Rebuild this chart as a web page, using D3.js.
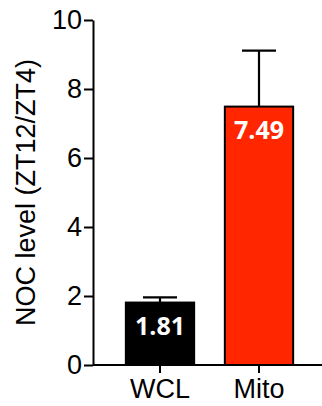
<!DOCTYPE html>
<html>
<head>
<meta charset="utf-8">
<script src="https://cdn.jsdelivr.net/npm/d3@7"></script>
<style>
  html, body { margin: 0; padding: 0; background: #fff; }
  svg { display: block; }
</style>
</head>
<body>
<div id="chart"></div>
<script>
// NOC level ratio (ZT12 / ZT4) for whole-cell lysate vs mitochondria
const categories = ["WCL", "Mito"];
const means = [1.81, 7.49];
const errors = [0.15, 1.62];
const barColors = ["#000000", "#ff2600"];
const yTicks = [0, 2, 4, 6, 8, 10];
const yTitle = "NOC level (ZT12/ZT4)";

const width = 322, height = 406;
const axisX = 93, axisRight = 322, yTop = 20, yBottom = 365;

const svg = d3.select("#chart").append("svg")
  .attr("width", width).attr("height", height);

const y = d3.scaleLinear().domain([0, 10]).range([yBottom, yTop]);
const x = d3.scaleBand().domain(categories)
  .range([110.5, 308.5]).paddingInner(0.31).paddingOuter(0.155);

const axisFont = "'Liberation Sans', Arial, sans-serif";

// bars
svg.selectAll("rect.bar").data(categories).join("rect")
  .attr("class", "bar")
  .attr("x", d => x(d))
  .attr("width", x.bandwidth())
  .attr("y", (d, i) => y(means[i]))
  .attr("height", (d, i) => y(0) - y(means[i]))
  .attr("fill", (d, i) => barColors[i])
  .attr("stroke", "#000")
  .attr("stroke-width", 2);

// upper error bars
const capW = 34;
const eb = svg.selectAll("g.err").data(categories).join("g").attr("class", "err")
  .attr("stroke", "#000").attr("stroke-width", 2.2);
eb.append("line")
  .attr("x1", d => x(d) + x.bandwidth() / 2)
  .attr("x2", d => x(d) + x.bandwidth() / 2)
  .attr("y1", (d, i) => y(means[i]))
  .attr("y2", (d, i) => y(means[i] + errors[i]));
eb.append("line")
  .attr("x1", d => x(d) + x.bandwidth() / 2 - capW / 2)
  .attr("x2", d => x(d) + x.bandwidth() / 2 + capW / 2)
  .attr("y1", (d, i) => y(means[i] + errors[i]))
  .attr("y2", (d, i) => y(means[i] + errors[i]));

// value labels inside bars
svg.selectAll("text.val").data(categories).join("text")
  .attr("class", "val")
  .attr("x", d => x(d) + x.bandwidth() / 2)
  .attr("y", (d, i) => y(means[i]) + 32)
  .attr("text-anchor", "middle")
  .attr("fill", "#fff")
  .attr("font-family", "'Open Sans', sans-serif")
  .attr("font-weight", "bold")
  .attr("font-size", 25)
  .text((d, i) => means[i].toFixed(2));

// y axis
const yAxis = svg.append("g")
  .attr("transform", `translate(${axisX},0)`)
  .call(d3.axisLeft(y).tickValues(yTicks).tickSize(9).tickPadding(2).tickSizeOuter(0));
yAxis.select(".domain").attr("stroke-width", 2);
yAxis.selectAll(".tick line").attr("stroke-width", 2);
yAxis.selectAll(".tick text")
  .attr("font-family", axisFont).attr("font-size", 27).attr("fill", "#000");

// x axis
const xAxis = svg.append("g")
  .attr("transform", `translate(0,${yBottom})`)
  .call(d3.axisBottom(x).tickSize(8).tickPadding(6).tickSizeOuter(0));
xAxis.select(".domain").attr("d", `M${axisX},0H${axisRight}`).attr("stroke-width", 2);
xAxis.selectAll(".tick line").attr("stroke-width", 2);
xAxis.selectAll(".tick text")
  .attr("font-family", axisFont).attr("font-size", 27).attr("fill", "#000");

// y axis title
svg.append("text")
  .attr("transform", `translate(35,${(yTop + yBottom) / 2}) rotate(-90)`)
  .attr("text-anchor", "middle")
  .attr("font-family", axisFont)
  .attr("font-size", 27)
  .attr("fill", "#000")
  .text(yTitle);
</script>
</body>
</html>
